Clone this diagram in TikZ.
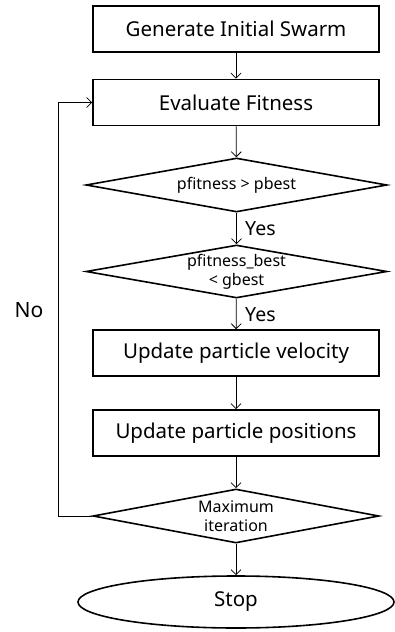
\documentclass[tikz,border=0pt]{standalone}
\usepackage{fontspec}
\setmainfont{Noto Sans}
\usetikzlibrary{shapes.geometric,arrows.meta}
\begin{document}
\begin{tikzpicture}[x=1bp,y=-1bp,
  box/.style={draw,line width=1.6bp,minimum width=286bp,minimum height=46bp,inner sep=0pt,font=\fontsize{20.5bp}{24bp}\selectfont},
  dec/.style={draw,diamond,line width=1.6bp,inner sep=0pt,align=center,font=\fontsize{16bp}{19bp}\selectfont},
  term/.style={draw,ellipse,line width=1.6bp,minimum width=316bp,minimum height=52bp,inner sep=0pt,font=\fontsize{20.5bp}{24bp}\selectfont},
  lbl/.style={font=\fontsize{19.5bp}{23bp}\selectfont,inner sep=0pt},
  arr/.style={-{Straight Barb[length=5bp,width=10bp]},line width=0.8bp}]
\useasboundingbox (0,0) rectangle (394,632);
\node[box] (gen) at (236,29) {Generate Initial Swarm};
\node[box] (eval) at (236,102.5) {Evaluate Fitness};
\node[dec,shape aspect=5.57,minimum width=301bp,minimum height=54bp] (d1) at (236.5,185) {pfitness > pbest};
\node[dec,shape aspect=5.68,minimum width=301bp,minimum height=53bp] (d2) at (236.5,271.5) {pfitness\_best\\< gbest};
\node[box] (vel) at (236,353) {Update particle velocity};
\node[box] (pos) at (236,433) {Update particle positions};
\node[dec,shape aspect=5.3,minimum width=286bp,minimum height=54bp] (d3) at (236,516) {Maximum\\iteration};
\node[term] (stop) at (236,602) {Stop};
\node[lbl,anchor=west] (y1) at (245,229) {Yes};
\node[lbl,anchor=west] (y2) at (245,315) {Yes};
\node[lbl,font=\fontsize{21bp}{24bp}\selectfont] (no) at (29,310) {No};
\draw[arr] (gen) -- (eval);
\draw[arr] (eval) -- (d1);
\draw[arr] (d1) -- (d2);
\draw[arr] (d2) -- (vel);
\draw[arr] (vel) -- (pos);
\draw[arr] (pos) -- (d3);
\draw[arr] (d3) -- (stop);
\draw[arr] (d3.west) -- ++(-34,0) |- (eval.west);
\end{tikzpicture}
\end{document}
